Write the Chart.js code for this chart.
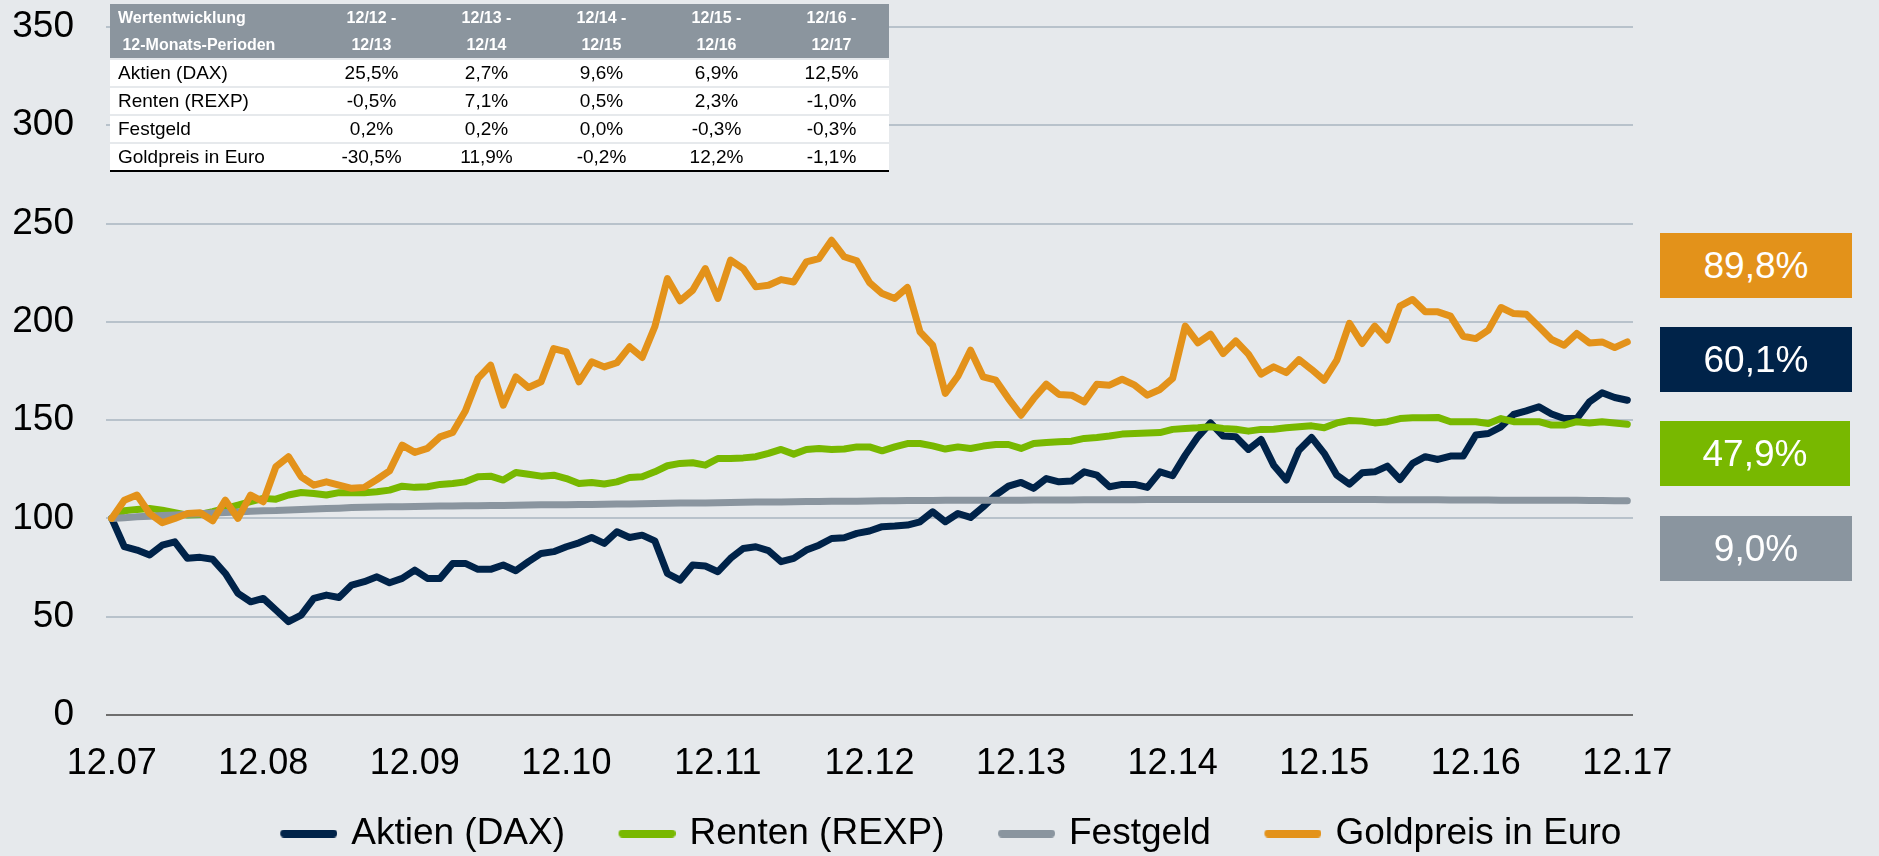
<!DOCTYPE html>
<html lang="de">
<head>
<meta charset="utf-8">
<title>Wertentwicklung 12.07 - 12.17</title>
<script src="https://cdn.jsdelivr.net/npm/chart.js@4.4.1/dist/chart.umd.min.js"></script>
<style>
    html, body {
        margin: 0;
        padding: 0;
        background: #e6e9ec;
        overflow: hidden;
    }
    body {
        width: 1879px;
        height: 856px;
        position: relative;
        font-family: "Liberation Sans", Arial, sans-serif;
    }
    #wrap {
        position: absolute;
        left: 0;
        top: 0;
        width: 1879px;
        height: 862px;
    }
    #perf-table {
        position: absolute;
        left: 110px;
        top: 4px;
        width: 779px;
        border-collapse: collapse;
        table-layout: fixed;
    }
    #perf-table th {
        background: #8b959e;
        color: #fff;
        font-weight: bold;
        font-size: 16px;
        line-height: 27px;
        height: 54px;
        padding: 0;
        text-align: center;
    }
    #perf-table td {
        background: #fff;
        color: #000;
        font-size: 19px;
        height: 26px;
        padding: 0;
        text-align: center;
        border-top: 2px solid #e6e9ec;
    }
    #perf-table th:first-child,
    #perf-table td:first-child {
        text-align: left;
        padding-left: 8px;
    }
    #perf-table tbody tr:last-child td {
        border-bottom: 2px solid #000;
    }
    .badge {
        position: absolute;
        left: 1660px;
        width: 192px;
        height: 65px;
        line-height: 65px;
        color: #fff;
        font-size: 37px;
        text-align: center;
    }
</style>
</head>
<body>
<div id="wrap"><canvas id="chart" width="1879" height="862"></canvas></div>
<table id="perf-table">
    <colgroup>
        <col style="width:204px">
        <col style="width:115px"><col style="width:115px"><col style="width:115px"><col style="width:115px"><col style="width:115px">
    </colgroup>
    <thead><tr id="table-head"></tr></thead>
    <tbody id="table-body"></tbody>
</table>
<div id="badges"></div>

<script>
// x axis: one tick per December, data is monthly (index 0 = 12/2007)
const xTickMonths = [0, 12, 24, 36, 48, 60, 72, 84, 96, 108, 120];
const xTickLabels = ['12.07', '12.08', '12.09', '12.10', '12.11', '12.12', '12.13', '12.14', '12.15', '12.16', '12.17'];

const seriesNames = ['Aktien (DAX)', 'Renten (REXP)', 'Festgeld', 'Goldpreis in Euro'];

// indexed values, 12/2007 = 100
const daxValues = [
    100, 85.6, 83.9, 81.4, 86.4, 88.1, 79.7, 80.2, 79.2, 72.0, 61.9, 57.6, 59.3, 53.4, 47.5, 50.8, 59.3, 61.0, 59.8, 66.1,
    67.8, 70.3, 67.3, 69.5, 73.7, 69.5, 69.5, 77.1, 77.1, 74.1, 74.1, 76.3, 73.4, 78.0, 82.2, 83.1, 85.6, 87.6, 90.3, 87.3,
    93.2, 90.3, 91.5, 88.6, 72.0, 68.6, 76.3, 75.8, 72.9, 79.7, 84.7, 85.6, 83.6, 78.0, 79.7, 83.9, 86.4, 89.8, 90.2, 92.4,
    93.6, 95.8, 96.1, 96.6, 98.3, 103.4, 98.3, 102.5, 100.5, 105.9, 111.9, 116.4, 118.3, 115.3, 120.3, 118.6, 119.0, 123.7, 122.0, 116.1,
    117.3, 117.3, 115.8, 123.7, 121.7, 132.2, 141.5, 148.6, 141.9, 141.5, 135.1, 140.2, 127.1, 119.5, 134.7, 141.2, 133.1, 122.0, 117.5, 123.2,
    123.7, 126.6, 119.8, 128.0, 131.4, 130.0, 131.7, 131.7, 142.4, 143.2, 146.6, 152.9, 154.7, 156.8, 153.1, 150.8, 150.8, 159.3, 163.9, 161.5, 160.1
];
const rexpValues = [
    100, 103.9, 104.6, 105.1, 104.2, 102.9, 101.7, 102.0, 103.4, 105.1, 106.8, 108.5, 110.2, 109.8, 111.9, 113.2, 112.7, 111.9, 113.1, 113.1,
    113.1, 113.6, 114.4, 116.4, 115.8, 116.1, 117.3, 117.8, 118.6, 121.2, 121.5, 119.5, 123.4, 122.5, 121.5, 122.0, 120.3, 117.8, 118.3, 117.5,
    118.6, 120.8, 121.2, 123.7, 126.8, 128.0, 128.3, 127.1, 130.5, 130.5, 130.8, 131.4, 133.1, 135.1, 132.7, 135.1, 135.6, 135.1, 135.3, 136.4,
    136.4, 134.4, 136.4, 138.1, 138.1, 136.9, 135.3, 136.4, 135.6, 136.8, 137.6, 137.6, 135.6, 138.1, 138.6, 139.0, 139.3, 140.7, 141.2, 141.9,
    142.9, 143.2, 143.4, 143.7, 145.3, 145.8, 146.1, 146.6, 145.8, 145.4, 144.4, 145.3, 145.4, 146.1, 146.6, 147.1, 146.1, 148.6, 149.8, 149.5,
    148.6, 149.2, 150.8, 151.2, 151.2, 151.4, 149.2, 149.2, 149.2, 148.3, 150.8, 149.2, 149.2, 149.2, 147.5, 147.5, 149.2, 148.6, 149.2, 148.6, 147.9
];
const festgeldValues = [
    100.0, 100.4, 100.8, 101.1, 101.5, 101.8, 102.1, 102.4, 102.7, 103.0, 103.3, 103.6, 103.9,
    104.0, 104.3, 104.5, 104.8, 105.0, 105.2, 105.5, 105.7, 105.8, 105.9, 106.0, 106.1,
    106.2, 106.3, 106.3, 106.4, 106.5, 106.6, 106.6, 106.7, 106.8, 106.9, 106.9, 107.0, 107.1, 107.1, 107.2, 107.3,
    107.4, 107.5, 107.6, 107.7, 107.8, 107.8, 107.9, 108.0, 108.1, 108.2, 108.3, 108.3, 108.4, 108.5, 108.6, 108.6, 108.7, 108.8, 108.8, 108.9,
    109.0, 109.0, 109.1, 109.1, 109.1, 109.2, 109.2, 109.2, 109.3, 109.3, 109.3, 109.3, 109.4, 109.4, 109.4, 109.4, 109.5, 109.5, 109.5, 109.5,
    109.5, 109.6, 109.6, 109.6, 109.6, 109.6, 109.6, 109.6, 109.6, 109.6, 109.6, 109.6, 109.6, 109.6, 109.6, 109.6, 109.6, 109.6, 109.6, 109.6,
    109.5, 109.5, 109.5, 109.5, 109.5, 109.4, 109.4, 109.4, 109.4, 109.3, 109.3, 109.3, 109.3, 109.2, 109.2, 109.2, 109.1, 109.1, 109.0, 109.0
];
const goldValues = [
    100, 109.3, 111.9, 102.5, 97.8, 100.0, 102.5, 102.9, 98.8, 109.3, 100.0, 111.9, 108.5, 126.3, 131.4, 121.2, 116.9, 118.6, 116.9, 115.3,
    115.8, 119.8, 124.2, 137.3, 133.6, 135.6, 141.5, 143.7, 154.7, 171.2, 178.0, 157.6, 172.0, 166.6, 169.5, 186.4, 184.7, 169.5, 179.7, 177.1,
    179.2, 187.3, 181.9, 197.5, 222.0, 210.7, 216.1, 227.1, 211.9, 231.4, 227.1, 217.8, 218.6, 221.5, 220.3, 230.5, 232.2, 241.5, 233.1, 231.0,
    220.0, 214.4, 211.9, 217.5, 194.9, 188.1, 163.6, 172.4, 185.6, 172.0, 170.3, 161.0, 152.5, 161.0, 168.3, 163.1, 162.7, 159.3, 168.3, 167.8,
    170.8, 167.8, 162.7, 165.6, 171.2, 197.8, 189.3, 193.7, 183.9, 190.3, 183.6, 173.4, 177.1, 174.2, 180.8, 175.8, 170.3, 180.5, 199.2, 189.0,
    197.8, 190.7, 208.0, 211.4, 205.1, 205.1, 202.9, 192.7, 191.5, 195.8, 207.3, 204.2, 203.9, 197.5, 191.0, 188.1, 194.1, 189.3, 189.8, 186.9, 189.8
];

// table of 12-month returns
const tablePeriods = ['12/12 -', '12/13 -', '12/14 -', '12/15 -', '12/16 -'];
const tablePeriodEnds = ['12/13', '12/14', '12/15', '12/16', '12/17'];
const daxReturns = ['25,5%', '2,7%', '9,6%', '6,9%', '12,5%'];
const rexpReturns = ['-0,5%', '7,1%', '0,5%', '2,3%', '-1,0%'];
const festgeldReturns = ['0,2%', '0,2%', '0,0%', '-0,3%', '-0,3%'];
const goldReturns = ['-30,5%', '11,9%', '-0,2%', '12,2%', '-1,1%'];

// total return labels on the right, top to bottom
const badgeTexts = ['89,8%', '60,1%', '47,9%', '9,0%'];

const colors = {
    dax: '#002349',
    rexp: '#78b800',
    festgeld: '#8a959f',
    gold: '#e3921a'
};

// Build the return table
function buildTable() {
    const head = document.getElementById('table-head');
    head.innerHTML = '<th>Wertentwicklung<br>&nbsp;12-Monats-Perioden</th>';
    tablePeriods.forEach((p, i) => {
        const th = document.createElement('th');
        th.innerHTML = `${p}<br>${tablePeriodEnds[i]}`;
        head.appendChild(th);
    });

    const body = document.getElementById('table-body');
    const rows = [daxReturns, rexpReturns, festgeldReturns, goldReturns];
    rows.forEach((values, r) => {
        const tr = document.createElement('tr');
        const nameCell = document.createElement('td');
        nameCell.textContent = seriesNames[r];
        tr.appendChild(nameCell);
        values.forEach(v => {
            const td = document.createElement('td');
            td.textContent = v;
            tr.appendChild(td);
        });
        body.appendChild(tr);
    });
}

// Coloured boxes with the total return
function buildBadges() {
    const container = document.getElementById('badges');
    const badgeColors = [colors.gold, colors.dax, colors.rexp, colors.festgeld];
    const tops = [233, 327, 421, 516];
    badgeTexts.forEach((text, i) => {
        const div = document.createElement('div');
        div.className = 'badge';
        div.style.top = tops[i] + 'px';
        div.style.background = badgeColors[i];
        if (i === 2) div.style.width = '190px';
        div.textContent = text;
        container.appendChild(div);
    });
}

// Legend symbol: short thick line at the right end of a wider transparent canvas,
// so the gap before the next legend entry is larger than the gap before the text
function legendLine(color) {
    const c = document.createElement('canvas');
    c.width = 105;
    c.height = 8;
    const g = c.getContext('2d');
    g.strokeStyle = color;
    g.lineWidth = 8;
    g.lineCap = 'round';
    g.beginPath();
    g.moveTo(c.width - 53, 4);
    g.lineTo(c.width - 4, 4);
    g.stroke();
    return c;
}

function toPoints(values) {
    return values.map((v, i) => ({ x: i, y: v }));
}

function lineDataset(label, values, color, order) {
    return {
        label: label,
        data: toPoints(values),
        borderColor: color,
        backgroundColor: color,
        borderWidth: 7,
        pointRadius: 0,
        pointStyle: legendLine(color),
        tension: 0,
        borderCapStyle: 'round',
        borderJoinStyle: 'round',
        fill: false,
        order: order
    };
}

function drawChart() {
    Chart.defaults.font.family = '"Liberation Sans", Arial, sans-serif';
    Chart.defaults.color = '#000';

    const ctx = document.getElementById('chart').getContext('2d');
    new Chart(ctx, {
        type: 'line',
        data: {
            datasets: [
                lineDataset(seriesNames[0], daxValues, colors.dax, 4),
                lineDataset(seriesNames[1], rexpValues, colors.rexp, 3),
                lineDataset(seriesNames[2], festgeldValues, colors.festgeld, 2),
                lineDataset(seriesNames[3], goldValues, colors.gold, 1)
            ]
        },
        options: {
            responsive: false,
            animation: false,
            devicePixelRatio: 1,
            layout: { padding: { left: 0, top: 27, right: 21, bottom: 0 } },
            plugins: {
                tooltip: { enabled: false },
                legend: {
                    position: 'bottom',
                    labels: {
                        usePointStyle: true,
                        pointStyleWidth: 96,
                        boxHeight: 8,
                        padding: 10,
                        color: '#000',
                        font: { size: 37 },
                        sort: (a, b) => a.datasetIndex - b.datasetIndex
                    }
                }
            },
            scales: {
                x: {
                    type: 'linear',
                    min: -0.45,
                    max: 120.45,
                    grid: { display: false },
                    border: { display: false },
                    afterBuildTicks: scale => {
                        scale.ticks = xTickMonths.map(v => ({ value: v }));
                    },
                    afterFit: scale => { scale.height = 90; },
                    ticks: {
                        autoSkip: false,
                        maxRotation: 0,
                        padding: 19,
                        font: { size: 36 },
                        callback: (value, index) => xTickLabels[index]
                    }
                },
                y: {
                    min: 0,
                    max: 350,
                    afterFit: scale => {
                        scale.width = 106;
                        scale.paddingTop = 0;
                        scale.paddingBottom = 0;
                    },
                    ticks: { stepSize: 50, padding: 32, font: { size: 37 } },
                    grid: {
                        drawTicks: false,
                        lineWidth: 2,
                        color: c => (c.tick && c.tick.value === 0) ? '#6e6e6e' : '#b8c2cb'
                    },
                    border: { display: false }
                },
                // empty axis that keeps room free for the boxes on the right
                yRight: {
                    position: 'right',
                    display: true,
                    afterFit: scale => { scale.width = 225; },
                    ticks: { display: false },
                    grid: { display: false },
                    border: { display: false }
                }
            }
        }
    });
}

buildTable();
buildBadges();
drawChart();
</script>
</body>
</html>
